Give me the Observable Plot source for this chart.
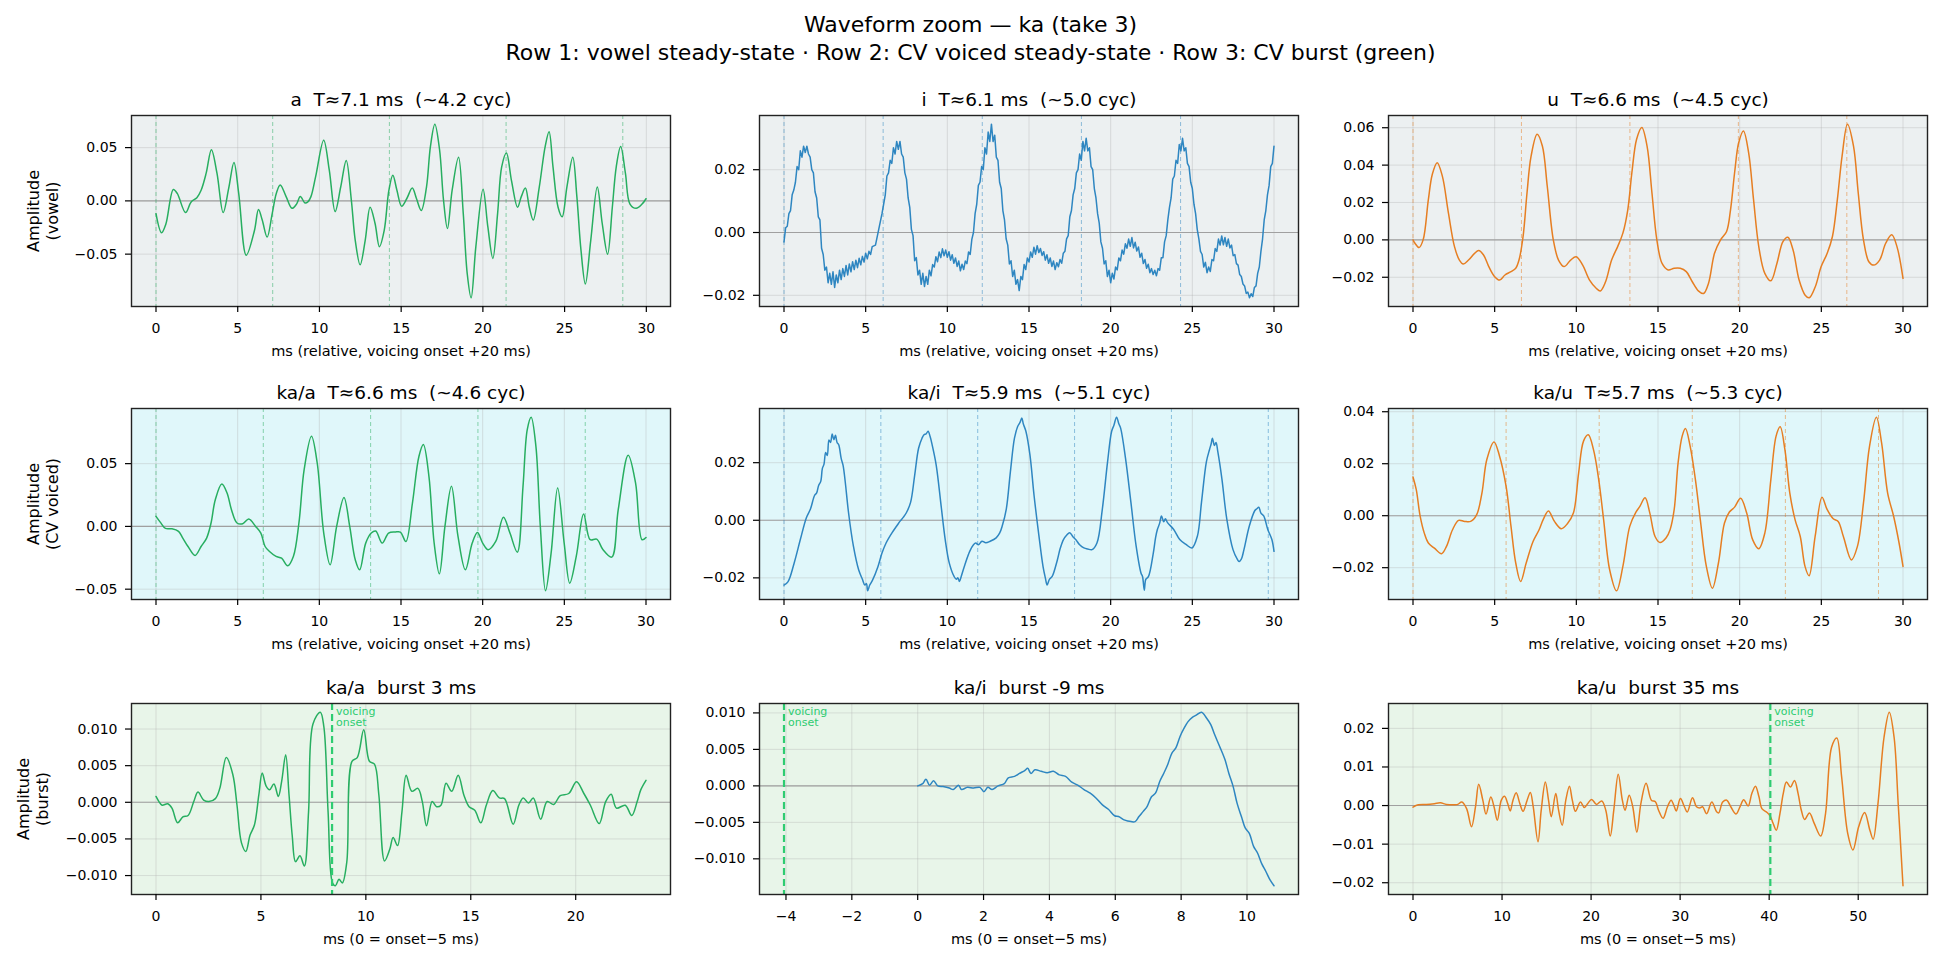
<!DOCTYPE html>
<html>
<head>
<meta charset="utf-8">
<script src="https://cdn.jsdelivr.net/npm/d3@7"></script>
<script src="https://cdn.jsdelivr.net/npm/@observablehq/plot@0.6"></script>
<style>
  body { margin: 0; background: #fff; }
  #fig { position: relative; width: 1941px; height: 962px; background: #fff; overflow: hidden;
         font-family: "DejaVu Sans", sans-serif; color: #000; }
  .sup { position: absolute; left: 0; width: 1941px; text-align: center; font-size: 22px;
         line-height: 22px; white-space: pre; }
  .ylab { position: absolute; transform: translate(-50%, -50%) rotate(-90deg); text-align: center;
          font-size: 16px; line-height: 1.2; white-space: nowrap; }
  .panel { position: absolute; }
  .panel svg text { white-space: pre; }
</style>
</head>
<body>
<div id="fig"></div>
<script>
// ---------- waveform samples: [ms, amplitude] ----------
const vowelA = [[0,-0.012],[0.34,-0.030],[0.6,-0.022],[1.06,0.0107],[1.3,0.007],[1.81,-0.011],[2.15,-0.001],[2.5,0.003],[2.76,0.010],[3.07,0.026],[3.39,0.048],[3.73,0.026],[4.11,-0.011],[4.45,0.012],[4.77,0.036],[5.06,0.007],[5.52,-0.051],[6.02,-0.028],[6.27,-0.008],[6.5,-0.018],[6.8,-0.034],[7.11,-0.012],[7.36,0.007],[7.6,0.015],[7.96,0.004],[8.32,-0.007],[8.6,-0.003],[8.83,0.004],[9.12,-0.002],[9.29,-0.001],[9.48,0.004],[9.77,0.023],[10.26,0.057],[10.6,0.029],[10.96,-0.010],[11.3,0.013],[11.64,0.038],[11.95,0.001],[12.19,-0.037],[12.49,-0.060],[12.8,-0.037],[13.1,-0.006],[13.4,-0.021],[13.67,-0.043],[13.96,-0.028],[14.25,0.010],[14.49,0.024],[14.74,0.010],[15.03,-0.005],[15.34,0.002],[15.68,0.012],[15.94,0.002],[16.23,-0.009],[16.55,0.013],[16.79,0.051],[17.06,0.072],[17.35,0.048],[17.59,0.001],[17.83,-0.026],[18.12,0.010],[18.51,0.041],[18.8,-0.012],[19.04,-0.068],[19.28,-0.091],[19.57,-0.043],[20.01,0.011],[20.3,-0.024],[20.61,-0.054],[20.9,-0.012],[21.15,0.032],[21.44,0.045],[21.75,0.019],[22.12,-0.006],[22.35,0.004],[22.6,0.012],[22.84,-0.006],[23.08,-0.018],[23.45,0.013],[23.81,0.051],[24.05,0.065],[24.29,0.032],[24.6,-0.006],[24.85,-0.015],[25.14,0.013],[25.5,0.041],[25.75,0.004],[26.0,-0.046],[26.27,-0.078],[26.6,-0.037],[27.0,0.013],[27.3,-0.021],[27.63,-0.050],[27.92,-0.006],[28.16,0.032],[28.43,0.051],[28.72,0.026],[29.0,-0.003],[29.38,-0.007],[29.74,-0.003],[29.98,0.002]];

const vowelI = [[0,-0.003],[0.1,0.0015],[0.2,0.002],[0.3,0.006],[0.4,0.007],[0.5,0.012],[0.6,0.0135],[0.7,0.016],[0.8,0.021],[0.9,0.02],[1.0,0.026],[1.1,0.024],[1.2,0.0275],[1.3,0.0255],[1.4,0.0275],[1.5,0.025],[1.6,0.024],[1.7,0.02],[1.8,0.019],[1.9,0.013],[2.0,0.011],[2.1,0.005],[2.2,0.004],[2.3,-0.005],[2.4,-0.007],[2.5,-0.012],[2.6,-0.011],[2.7,-0.016],[2.8,-0.013],[2.9,-0.0165],[3.0,-0.0125],[3.1,-0.0175],[3.2,-0.0135],[3.3,-0.016],[3.4,-0.012],[3.5,-0.015],[3.6,-0.0115],[3.7,-0.014],[3.8,-0.0105],[3.9,-0.0135],[4.0,-0.01],[4.1,-0.0125],[4.2,-0.0093],[4.3,-0.0118],[4.4,-0.0088],[4.5,-0.0112],[4.6,-0.0082],[4.7,-0.0103],[4.8,-0.0076],[4.9,-0.0094],[5.0,-0.0066],[5.1,-0.0084],[5.2,-0.006],[5.3,-0.007],[5.4,-0.0045],[5.6,-0.004],[5.8,0.001],[6.0,0.006],[6.1,0.009],[6.2,0.012],[6.3,0.018],[6.4,0.019],[6.5,0.023],[6.6,0.022],[6.7,0.027],[6.8,0.025],[6.9,0.029],[7.0,0.0265],[7.1,0.029],[7.2,0.025],[7.3,0.024],[7.4,0.019],[7.5,0.017],[7.6,0.011],[7.7,0.008],[7.8,0.001],[7.9,-0.001],[8.0,-0.009],[8.1,-0.008],[8.2,-0.0135],[8.3,-0.012],[8.4,-0.0165],[8.5,-0.013],[8.6,-0.0172],[8.7,-0.014],[8.8,-0.0165],[8.9,-0.012],[9.0,-0.0138],[9.1,-0.0102],[9.2,-0.011],[9.3,-0.0077],[9.4,-0.0093],[9.5,-0.0062],[9.6,-0.008],[9.7,-0.0052],[9.8,-0.0074],[9.9,-0.0056],[10.0,-0.0079],[10.1,-0.0061],[10.2,-0.0088],[10.3,-0.0071],[10.4,-0.0098],[10.5,-0.0081],[10.6,-0.0108],[10.7,-0.0091],[10.8,-0.0122],[10.9,-0.0101],[11.0,-0.0118],[11.1,-0.0091],[11.2,-0.0099],[11.3,-0.0062],[11.4,-0.007],[11.5,-0.0022],[11.6,0],[11.7,0.006],[11.8,0.009],[11.9,0.015],[12.0,0.016],[12.1,0.021],[12.2,0.02],[12.3,0.027],[12.4,0.025],[12.5,0.032],[12.6,0.029],[12.7,0.0345],[12.8,0.029],[12.9,0.031],[13.0,0.024],[13.1,0.023],[13.2,0.016],[13.3,0.014],[13.4,0.007],[13.5,0.004],[13.6,-0.002],[13.7,-0.004],[13.8,-0.01],[13.9,-0.009],[14.0,-0.014],[14.1,-0.012],[14.2,-0.0165],[14.3,-0.015],[14.4,-0.0185],[14.5,-0.014],[14.6,-0.015],[14.7,-0.0102],[14.8,-0.0118],[14.9,-0.0081],[15.0,-0.0094],[15.1,-0.0062],[15.2,-0.0079],[15.3,-0.0047],[15.4,-0.0069],[15.5,-0.0042],[15.6,-0.0064],[15.7,-0.0051],[15.8,-0.0073],[15.9,-0.0061],[16.0,-0.0088],[16.1,-0.0071],[16.2,-0.0098],[16.3,-0.0081],[16.4,-0.0108],[16.5,-0.0091],[16.6,-0.0118],[16.7,-0.0096],[16.8,-0.0109],[16.9,-0.0086],[17.0,-0.0098],[17.1,-0.0066],[17.2,-0.006],[17.3,-0.002],[17.4,-0.001],[17.5,0.005],[17.6,0.007],[17.7,0.012],[17.8,0.014],[17.9,0.019],[18.0,0.02],[18.1,0.025],[18.2,0.023],[18.3,0.029],[18.4,0.026],[18.5,0.03],[18.6,0.026],[18.7,0.027],[18.8,0.021],[18.9,0.02],[19.0,0.014],[19.1,0.011],[19.2,0.006],[19.3,0.003],[19.4,-0.003],[19.5,-0.005],[19.6,-0.01],[19.7,-0.009],[19.8,-0.014],[19.9,-0.012],[20.0,-0.016],[20.1,-0.013],[20.2,-0.0148],[20.3,-0.011],[20.4,-0.0119],[20.5,-0.0081],[20.6,-0.009],[20.7,-0.0056],[20.8,-0.0069],[20.9,-0.0036],[21.0,-0.005],[21.1,-0.0021],[21.2,-0.0044],[21.3,-0.0016],[21.4,-0.0049],[21.5,-0.0031],[21.6,-0.0059],[21.7,-0.0046],[21.8,-0.0079],[21.9,-0.0066],[22.0,-0.0099],[22.1,-0.0086],[22.2,-0.0114],[22.3,-0.0101],[22.4,-0.0128],[22.5,-0.0115],[22.6,-0.0134],[22.7,-0.012],[22.8,-0.0138],[22.9,-0.0115],[23.0,-0.012],[23.1,-0.008],[23.2,-0.008],[23.3,-0.003],[23.4,-0.001],[23.5,0.004],[23.6,0.008],[23.7,0.011],[23.8,0.017],[23.9,0.018],[24.0,0.023],[24.1,0.022],[24.2,0.028],[24.3,0.026],[24.4,0.03],[24.5,0.026],[24.6,0.027],[24.7,0.022],[24.8,0.021],[24.9,0.016],[25.0,0.014],[25.1,0.009],[25.2,0.006],[25.3,0.001],[25.4,-0.002],[25.5,-0.006],[25.6,-0.007],[25.7,-0.011],[25.8,-0.0095],[25.9,-0.0128],[26.0,-0.011],[26.1,-0.0124],[26.2,-0.0086],[26.3,-0.009],[26.4,-0.0051],[26.5,-0.006],[26.6,-0.0021],[26.7,-0.004],[26.8,-0.0011],[26.9,-0.0039],[27.0,-0.0016],[27.1,-0.0044],[27.2,-0.0021],[27.3,-0.0049],[27.4,-0.004],[27.5,-0.0074],[27.6,-0.007],[27.7,-0.0099],[27.8,-0.0104],[27.9,-0.0134],[28.0,-0.014],[28.1,-0.0164],[28.2,-0.017],[28.3,-0.0194],[28.4,-0.019],[28.5,-0.0208],[28.6,-0.0195],[28.7,-0.0204],[28.8,-0.0175],[28.9,-0.017],[29.0,-0.013],[29.1,-0.011],[29.2,-0.006],[29.3,-0.002],[29.4,0.004],[29.5,0.007],[29.6,0.012],[29.7,0.015],[29.8,0.021],[29.9,0.022],[30.0,0.0275]];

const vowelU = [[0,0],[0.12,-0.0018],[0.37,-0.0041],[0.62,0],[0.94,0.0215],[1.18,0.035],[1.48,0.0413],[1.8,0.034],[2.17,0.0143],[2.54,-0.0036],[2.84,-0.0108],[3.08,-0.0129],[3.4,-0.0108],[3.77,-0.0072],[4.02,-0.0057],[4.32,-0.0081],[4.64,-0.0143],[5.0,-0.0197],[5.3,-0.0215],[5.63,-0.0188],[6.0,-0.017],[6.29,-0.0152],[6.49,-0.0108],[6.74,0.0018],[6.98,0.0251],[7.23,0.0448],[7.6,0.0565],[7.92,0.0502],[8.22,0.0287],[8.59,0],[8.91,-0.0108],[9.25,-0.0143],[9.65,-0.0108],[9.99,-0.009],[10.39,-0.0135],[10.81,-0.0215],[11.23,-0.026],[11.47,-0.0273],[11.79,-0.0224],[12.16,-0.0108],[12.53,-0.0036],[12.85,0.0036],[13.15,0.0161],[13.4,0.0359],[13.69,0.0538],[14.01,0.0601],[14.33,0.0502],[14.63,0.0251],[14.93,0],[15.25,-0.0126],[15.62,-0.0161],[15.99,-0.0152],[16.36,-0.0152],[16.73,-0.017],[17.1,-0.0224],[17.47,-0.0273],[17.79,-0.0287],[18.09,-0.0233],[18.46,-0.0072],[18.83,0],[19.2,0.0045],[19.44,0.0161],[19.69,0.0359],[19.94,0.052],[20.23,0.0583],[20.55,0.0466],[20.85,0.0215],[21.17,-0.0036],[21.54,-0.0179],[21.91,-0.0219],[22.28,-0.0126],[22.65,-0.0009],[22.95,0.0014],[23.27,-0.0054],[23.64,-0.0215],[24.01,-0.0296],[24.26,-0.031],[24.63,-0.0251],[24.99,-0.0143],[25.36,-0.0072],[25.68,0.0018],[25.98,0.0215],[26.27,0.0448],[26.6,0.0619],[26.97,0.0502],[27.26,0.0251],[27.58,0],[27.91,-0.0117],[28.2,-0.0135],[28.57,-0.0108],[28.94,-0.0018],[29.31,0.0027],[29.63,-0.0036],[30.0,-0.0206]];

const cvA = [[0,0.008],[0.27,0.0032],[0.58,-0.0016],[0.98,-0.0019],[1.38,-0.004],[1.64,-0.0093],[1.96,-0.016],[2.39,-0.0231],[2.76,-0.016],[3.1,-0.0093],[3.37,0.0027],[3.63,0.0213],[4.03,0.0338],[4.35,0.0266],[4.62,0.0133],[4.96,0.0027],[5.31,0.0021],[5.68,0.0059],[6.1,0],[6.42,-0.0053],[6.68,-0.016],[6.95,-0.02],[7.35,-0.0239],[7.69,-0.0253],[8.06,-0.0314],[8.41,-0.0239],[8.75,0.0027],[9.07,0.0452],[9.52,0.0718],[9.87,0.0505],[10.27,-0.0053],[10.66,-0.0306],[11.06,0],[11.51,0.0231],[11.86,0],[12.2,-0.0266],[12.47,-0.0346],[12.84,-0.0133],[13.18,-0.0053],[13.45,-0.0037],[13.85,-0.0133],[14.24,-0.0053],[14.64,-0.0045],[14.96,-0.0045],[15.3,-0.012],[15.7,0.0186],[16.1,0.0559],[16.37,0.0652],[16.71,0.0399],[17.03,-0.0133],[17.35,-0.0378],[17.69,0],[18.09,0.0319],[18.49,-0.008],[18.94,-0.0346],[19.36,-0.0133],[19.68,-0.0048],[20.0,-0.0133],[20.34,-0.0186],[20.8,-0.012],[21.27,0.0072],[21.67,-0.0053],[22.12,-0.0205],[22.47,0.0319],[22.73,0.0771],[22.97,0.087],[23.26,0.0638],[23.53,0],[23.85,-0.0513],[24.19,-0.0213],[24.59,0.0306],[24.99,-0.0133],[25.33,-0.0452],[25.73,-0.0239],[26.18,0.0098],[26.58,-0.0106],[26.98,-0.0101],[27.37,-0.0186],[27.9,-0.0245],[28.3,0.0133],[28.91,0.0566],[29.36,0.0346],[29.76,-0.0106],[30.0,-0.0088]];

const cvI = [[0,-0.0225],[0.25,-0.0213],[0.62,-0.0149],[1.0,-0.0067],[1.37,0.0009],[1.62,0.0039],[1.87,0.0086],[2.0,0.0095],[2.12,0.0121],[2.25,0.0135],[2.35,0.018],[2.45,0.0195],[2.55,0.0235],[2.65,0.0225],[2.75,0.0279],[2.85,0.027],[2.95,0.03],[3.05,0.028],[3.15,0.0295],[3.25,0.027],[3.35,0.0262],[3.5,0.0215],[3.62,0.019],[3.75,0.0133],[3.95,0.0027],[4.25,-0.009],[4.57,-0.0172],[4.8,-0.0205],[4.95,-0.0225],[5.05,-0.022],[5.12,-0.0245],[5.25,-0.0225],[5.42,-0.0208],[5.75,-0.0161],[6.0,-0.0114],[6.25,-0.0079],[6.62,-0.0043],[6.9,-0.002],[7.12,-0.0002],[7.3,0.001],[7.5,0.0027],[7.75,0.0062],[8.0,0.0156],[8.24,0.025],[8.45,0.0285],[8.57,0.0297],[8.7,0.03],[8.82,0.0309],[8.95,0.029],[9.07,0.0262],[9.32,0.0191],[9.62,0.005],[9.87,-0.0067],[10.12,-0.0149],[10.42,-0.0196],[10.55,-0.0205],[10.65,-0.02],[10.74,-0.0213],[10.85,-0.0195],[11.07,-0.0155],[11.37,-0.0108],[11.6,-0.0085],[11.74,-0.0079],[11.9,-0.0085],[12.12,-0.0073],[12.35,-0.0078],[12.62,-0.0073],[12.99,-0.0061],[13.2,-0.0045],[13.36,-0.002],[13.61,0.0039],[13.86,0.0168],[14.11,0.0285],[14.3,0.0325],[14.45,0.034],[14.56,0.0355],[14.65,0.0335],[14.81,0.0309],[15.06,0.0226],[15.31,0.0086],[15.61,-0.0055],[15.86,-0.0161],[16.0,-0.02],[16.11,-0.0225],[16.25,-0.0205],[16.41,-0.0196],[16.74,-0.0137],[16.9,-0.01],[17.11,-0.0067],[17.3,-0.0052],[17.49,-0.0043],[17.7,-0.0058],[17.86,-0.0067],[18.1,-0.0085],[18.36,-0.0096],[18.6,-0.01],[18.86,-0.0102],[19.16,-0.0079],[19.49,0.0039],[19.81,0.0203],[20.06,0.0309],[20.2,0.033],[20.36,0.0358],[20.5,0.0335],[20.61,0.032],[20.91,0.0215],[21.24,0.0062],[21.56,-0.009],[21.86,-0.0184],[21.95,-0.0195],[22.06,-0.0243],[22.15,-0.0205],[22.31,-0.0196],[22.61,-0.0114],[22.75,-0.006],[22.86,-0.0032],[23.0,-0.001],[23.11,0.0015],[23.25,-0.0005],[23.35,0.0005],[23.48,-0.0008],[23.86,-0.0032],[24.23,-0.0067],[24.61,-0.0084],[24.98,-0.0096],[25.31,-0.0055],[25.56,0.0062],[25.86,0.0203],[26.05,0.0245],[26.15,0.0265],[26.23,0.0285],[26.35,0.026],[26.45,0.027],[26.56,0.0238],[26.81,0.0144],[27.11,0.0004],[27.49,-0.0102],[27.75,-0.0135],[27.86,-0.0143],[28.0,-0.0135],[28.16,-0.0102],[28.49,-0.002],[28.82,0.0033],[28.95,0.004],[29.07,0.0045],[29.2,0.0025],[29.37,0.0015],[29.62,-0.0032],[29.87,-0.0067],[30.0,-0.0108]];

const cvU = [[0,0.0149],[0.2,0.01],[0.44,-0.0003],[0.69,-0.0067],[0.94,-0.0105],[1.31,-0.0125],[1.75,-0.0146],[2.05,-0.0118],[2.42,-0.0054],[2.79,-0.0018],[3.16,-0.0022],[3.53,-0.0022],[3.9,0.0004],[4.22,0.0087],[4.52,0.0216],[4.96,0.0284],[5.3,0.0229],[5.7,0.0113],[6.0,-0.0041],[6.29,-0.0182],[6.59,-0.0253],[6.93,-0.0182],[7.35,-0.0099],[7.72,-0.0054],[7.97,-0.0015],[8.29,0.0018],[8.66,-0.0022],[9.08,-0.005],[9.45,-0.0031],[9.82,0.001],[10.14,0.0164],[10.44,0.0287],[10.73,0.0311],[11.05,0.0254],[11.37,0.0139],[11.67,-0.0015],[12.04,-0.0208],[12.46,-0.0289],[12.85,-0.0195],[13.27,-0.0041],[13.64,0.0013],[13.89,0.0036],[14.21,0.0069],[14.5,0.001],[14.82,-0.008],[15.12,-0.0103],[15.49,-0.0086],[15.74,-0.0054],[15.99,0.0023],[16.23,0.0203],[16.48,0.0306],[16.68,0.0335],[16.97,0.0267],[17.29,0.0139],[17.59,-0.0015],[17.96,-0.0195],[18.33,-0.0279],[18.7,-0.0182],[19.07,-0.0028],[19.37,0.0014],[19.69,0.0033],[20.06,0.0067],[20.43,0.001],[20.8,-0.0093],[21.17,-0.0127],[21.54,-0.0067],[21.91,0.0139],[22.23,0.0306],[22.48,0.0342],[22.77,0.0254],[23.07,0.0087],[23.39,-0.0015],[23.71,-0.008],[24.0,-0.0195],[24.25,-0.0231],[24.62,-0.008],[25.04,0.0071],[25.36,0.0023],[25.73,-0.0012],[26.03,-0.0022],[26.35,-0.008],[26.84,-0.017],[27.21,-0.0118],[27.58,0.0049],[27.95,0.0267],[28.37,0.0379],[28.69,0.028],[29.06,0.0087],[29.43,-0.0003],[29.76,-0.0105],[30.0,-0.0195]];

const burstA = [[0,0.0008],[0.14,0.0001],[0.29,-0.0004],[0.56,-0.0002],[0.76,-0.0008],[1.03,-0.0028],[1.28,-0.002],[1.53,-0.0018],[1.8,0.0001],[2.0,0.0014],[2.27,0.0003],[2.52,0.0001],[2.83,0.0005],[3.04,0.0019],[3.35,0.0061],[3.66,0.0038],[3.86,-0.0004],[4.07,-0.0055],[4.28,-0.0067],[4.48,-0.0045],[4.69,-0.0031],[4.9,0.001],[5.06,0.004],[5.25,0.0022],[5.41,0.0017],[5.62,0.0025],[5.83,0.0008],[5.99,0.0029],[6.18,0.0065],[6.34,0.001],[6.49,-0.0045],[6.65,-0.0081],[6.86,-0.0073],[7.07,-0.0087],[7.27,-0.0013],[7.48,0.0107],[7.83,0.0123],[8.0,0.0103],[8.2,-0.0013],[8.41,-0.011],[8.55,-0.0114],[8.72,-0.0105],[8.88,-0.011],[9.09,-0.0082],[9.34,0.0056],[9.59,0.0061],[9.9,0.0099],[10.17,0.0056],[10.41,0.0052],[10.62,0.001],[10.89,-0.008],[11.14,-0.0064],[11.3,-0.0048],[11.51,-0.0059],[11.72,-0.0013],[11.92,0.0037],[12.19,0.0015],[12.48,0.0019],[12.69,0.0001],[12.89,-0.0032],[13.16,0.0001],[13.37,-0.0006],[13.58,-0.0004],[13.82,0.0026],[14.09,0.0015],[14.4,0.0037],[14.67,0.001],[14.92,-0.0006],[15.19,-0.0011],[15.48,-0.0028],[15.74,-0.0004],[16.05,0.0016],[16.36,0.0006],[16.61,0.0005],[17.02,-0.003],[17.29,-0.0004],[17.5,0.0006],[17.75,-0.0001],[17.98,0.0006],[18.33,-0.0023],[18.64,0.0001],[18.95,-0.0003],[19.26,0.0009],[19.67,0.0012],[20.04,0.0028],[20.39,0.0012],[20.7,-0.0004],[21.12,-0.0029],[21.43,0.0001],[21.69,0.0011],[21.94,-0.0008],[22.36,-0.0004],[22.67,-0.0018],[22.93,0.0001],[23.1,0.0017],[23.35,0.003]];

const burstI = [[0,0],[0.15,0.0003],[0.25,0.0009],[0.36,0.0001],[0.48,0.0007],[0.61,0],[0.77,-0.0001],[0.96,-0.0003],[1.08,-0.0005],[1.24,0.0001],[1.33,-0.0005],[1.51,-0.0002],[1.7,-0.0003],[1.89,-0.0002],[2.01,-0.0008],[2.13,-0.0002],[2.26,-0.0005],[2.44,0],[2.63,0.0003],[2.75,0.0011],[2.94,0.0013],[3.09,0.0017],[3.25,0.0021],[3.34,0.0024],[3.44,0.0017],[3.56,0.0022],[3.75,0.002],[3.93,0.0018],[4.12,0.002],[4.3,0.0015],[4.49,0.0013],[4.68,0.0005],[4.86,0.0001],[5.05,-0.0005],[5.24,-0.001],[5.42,-0.0017],[5.61,-0.0026],[5.79,-0.0032],[5.98,-0.0041],[6.1,-0.0042],[6.29,-0.0047],[6.48,-0.0049],[6.6,-0.0049],[6.72,-0.0042],[6.85,-0.0035],[6.97,-0.0028],[7.1,-0.0015],[7.22,-0.001],[7.35,0.0006],[7.47,0.0017],[7.59,0.0029],[7.72,0.0045],[7.84,0.0052],[7.97,0.0068],[8.09,0.0079],[8.21,0.0088],[8.34,0.0094],[8.46,0.0097],[8.62,0.0101],[8.77,0.0093],[8.9,0.0084],[9.02,0.007],[9.17,0.0054],[9.33,0.0036],[9.45,0.0017],[9.58,-0.0001],[9.7,-0.0024],[9.83,-0.0042],[9.95,-0.0058],[10.07,-0.0065],[10.2,-0.0083],[10.32,-0.0092],[10.45,-0.0107],[10.57,-0.0117],[10.7,-0.0129],[10.82,-0.0137]];

const burstU = [[0,-0.0004],[0.59,0.0002],[1.49,0.0003],[2.4,0.0005],[3.08,0.0007],[3.76,0.0003],[4.66,0.0002],[5.03,0.0003],[5.48,0.0009],[6.02,-0.0008],[6.57,-0.0055],[7.02,-0.0003],[7.38,0.0055],[7.84,0.0014],[8.2,-0.0022],[8.74,0.0022],[9.1,-0.0003],[9.47,-0.0038],[9.92,0.0014],[10.28,0.0024],[10.64,0.0005],[10.92,-0.0014],[11.23,0.0014],[11.59,0.0033],[12.0,0.0005],[12.36,-0.0015],[12.82,0.0014],[13.18,0.0034],[13.5,-0.0003],[14.04,-0.0094],[14.4,-0.0012],[14.86,0.0061],[15.22,0.0014],[15.53,-0.0029],[16.03,0.0031],[16.35,-0.0012],[16.76,-0.0051],[17.16,0.0014],[17.57,0.005],[17.89,0.0014],[18.25,-0.0015],[18.8,0.0009],[19.25,-0.0005],[19.61,0.0005],[20.06,0.0016],[20.61,0.0003],[21.2,0.0012],[21.65,-0.0012],[22.15,-0.0079],[22.55,-0.0012],[23.05,0.0081],[23.51,0.0014],[23.82,-0.0012],[24.28,0.0027],[24.68,-0.0003],[25.14,-0.0069],[25.59,0.0005],[26.18,0.0058],[26.77,0.0014],[27.22,0.001],[27.58,-0.0012],[28.08,-0.0033],[28.58,-0.0003],[28.99,0.0014],[29.35,-0.0003],[29.57,-0.0014],[30.03,0.0018],[30.48,-0.0003],[30.8,-0.0017],[31.39,0.002],[31.84,-0.0003],[32.2,-0.0006],[32.52,-0.0003],[32.97,-0.0021],[33.56,0.0009],[34.1,-0.0016],[34.33,-0.0019],[34.78,0.0009],[35.24,0.0014],[35.69,-0.0003],[36.28,-0.0022],[36.73,-0.0003],[37.14,0.0015],[37.64,-0.0001],[38.05,0.0031],[38.46,0.005],[38.86,0.0022],[39.18,-0.0008],[39.77,-0.0018],[40.13,-0.0028],[40.44,-0.0046],[40.8,-0.0064],[41.21,-0.0021],[41.58,0.0031],[41.94,0.0061],[42.39,0.0048],[42.84,0.0065],[43.25,0.0031],[43.61,-0.0012],[43.98,-0.0036],[44.52,-0.0019],[45.06,-0.0046],[45.79,-0.0079],[46.33,-0.0021],[47.01,0.0151],[47.6,0.0175],[48.14,0.0074],[48.82,-0.0072],[49.41,-0.0115],[50.05,-0.0055],[50.72,-0.0018],[51.31,-0.0064],[51.68,-0.0087],[52.22,0.0005],[52.9,0.0177],[53.49,0.0242],[54.03,0.0177],[54.49,0.0005],[55.03,-0.0208]];

// ---------- period markers (ms) and voicing-onset positions ----------
const periodsVowelA = [0, 7.14, 14.28, 21.42, 28.56];
const periodsVowelI = [0, 6.07, 12.14, 18.21, 24.28];
const periodsVowelU = [0, 6.64, 13.28, 19.92, 26.56];
const periodsCvA = [0, 6.57, 13.14, 19.71, 26.28];
const periodsCvI = [0, 5.93, 11.86, 17.79, 23.72, 29.65];
const periodsCvU = [0, 5.7, 11.4, 17.1, 22.8, 28.5];
const voicingOnsets = [8.39, -4.06, 40.13];

// ---------- titles and tick labels ----------
const panelTitles = [
  "a  T≈7.1 ms  (~4.2 cyc)", "i  T≈6.1 ms  (~5.0 cyc)", "u  T≈6.6 ms  (~4.5 cyc)",
  "ka/a  T≈6.6 ms  (~4.6 cyc)", "ka/i  T≈5.9 ms  (~5.1 cyc)", "ka/u  T≈5.7 ms  (~5.3 cyc)",
  "ka/a  burst 3 ms", "ka/i  burst -9 ms", "ka/u  burst 35 ms"
];
const rowYLabels = [["Amplitude", "(vowel)"], ["Amplitude", "(CV voiced)"], ["Amplitude", "(burst)"]];
const steadyXLabel = "ms (relative, voicing onset +20 ms)";
const burstXLabel = "ms (0 = onset\u22125 ms)";
const steadyTicksX = [0, 5, 10, 15, 20, 25, 30];
const burstTicksXA = [0, 5, 10, 15, 20];
const burstTicksXI = [-4, -2, 0, 2, 4, 6, 8, 10];
const burstTicksXU = [0, 10, 20, 30, 40, 50];
const ticksY5 = [-0.05, 0, 0.05];
const ticksY2 = [-0.02, 0, 0.02];
const ticksYU = [-0.02, 0, 0.02, 0.04, 0.06];
const ticksYCvU = [-0.02, 0, 0.02, 0.04];
const ticksYBurst = [-0.010, -0.005, 0, 0.005, 0.010];
const ticksYBurstU = [-0.02, -0.01, 0, 0.01, 0.02];

// ---------- styling ----------
const GREEN = "#27ae60", BLUE = "#2e86c1", ORANGE = "#e67e22";
const ONSET = "#2ecc71";
const rowBg = ["#ecf0f1", "#e0f7fa", "#e8f5e9"];
const colColor = [GREEN, BLUE, ORANGE];

const panels = [
  {data: vowelA, periods: periodsVowelA, xTicks: steadyTicksX, yTicks: ticksY5, yFmt: ".2f", xLabel: steadyXLabel},
  {data: vowelI, periods: periodsVowelI, xTicks: steadyTicksX, yTicks: ticksY2, yFmt: ".2f", xLabel: steadyXLabel, curve: "linear"},
  {data: vowelU, periods: periodsVowelU, xTicks: steadyTicksX, yTicks: ticksYU, yFmt: ".2f", xLabel: steadyXLabel},
  {data: cvA, periods: periodsCvA, xTicks: steadyTicksX, yTicks: ticksY5, yFmt: ".2f", xLabel: steadyXLabel},
  {data: cvI, periods: periodsCvI, xTicks: steadyTicksX, yTicks: ticksY2, yFmt: ".2f", xLabel: steadyXLabel},
  {data: cvU, periods: periodsCvU, xTicks: steadyTicksX, yTicks: ticksYCvU, yFmt: ".2f", xLabel: steadyXLabel},
  {data: burstA, onset: voicingOnsets[0], xTicks: burstTicksXA, yTicks: ticksYBurst, yFmt: ".3f", xLabel: burstXLabel},
  {data: burstI, onset: voicingOnsets[1], xTicks: burstTicksXI, yTicks: ticksYBurst, yFmt: ".3f", xLabel: burstXLabel},
  {data: burstU, onset: voicingOnsets[2], xTicks: burstTicksXU, yTicks: ticksYBurstU, yFmt: ".2f", xLabel: burstXLabel}
];

// frame geometry of the 3x3 grid (px)
const colLeft = [131, 759, 1388];
const rowTop = [115, 408, 703];
const frameW = 539, frameH = 191;
const mL = 72, mR = 14, mT = 42, mB = 64;

// autoscale with a 5% margin on each side
function padded(lo, hi) { const p = (hi - lo) * 0.05; return [lo - p, hi + p]; }

const fig = document.getElementById("fig");

// suptitle
[["Waveform zoom \u2014 ka (take 3)", 14], ["Row 1: vowel steady-state \u00b7 Row 2: CV voiced steady-state \u00b7 Row 3: CV burst (green)", 42]]
  .forEach(([t, top]) => {
    const d = document.createElement("div");
    d.className = "sup"; d.style.top = top + "px"; d.textContent = t;
    fig.appendChild(d);
  });

// row labels
const ylabX = [43, 43, 33];
rowYLabels.forEach((lines, r) => {
  const d = document.createElement("div");
  d.className = "ylab";
  d.style.left = ylabX[r] + "px";
  d.style.top = (rowTop[r] + frameH / 2) + "px";
  d.innerHTML = lines.join("<br>");
  fig.appendChild(d);
});

panels.forEach((p, i) => {
  const row = Math.floor(i / 3), col = i % 3;
  const color = colColor[col];
  const ts = p.data.map(d => d[0]).concat(p.onset !== undefined ? [p.onset] : []);
  const vs = p.data.map(d => d[1]);
  const xDomain = padded(d3.min(ts), d3.max(ts));
  const yDomain = padded(d3.min(vs), d3.max(vs));

  const marks = [
    Plot.frame({fill: rowBg[row], stroke: null}),
    Plot.gridX({ticks: p.xTicks, stroke: "#b0b0b0", strokeOpacity: 0.35, strokeWidth: 1}),
    Plot.gridY({ticks: p.yTicks, stroke: "#b0b0b0", strokeOpacity: 0.35, strokeWidth: 1}),
    Plot.ruleY([0], {stroke: "#a0a0a0", strokeWidth: 1.1})
  ];
  if (p.periods) {
    marks.push(Plot.ruleX(p.periods, {x: d => d, stroke: color, strokeOpacity: 0.5, strokeWidth: 1, strokeDasharray: "4,3"}));
  }
  marks.push(Plot.line(p.data, {x: d => d[0], y: d => d[1], stroke: color, strokeWidth: 1.5, curve: p.curve || "catmull-rom"}));
  if (p.onset !== undefined) {
    marks.push(Plot.ruleX([p.onset], {x: d => d, stroke: ONSET, strokeWidth: 2.2, strokeDasharray: "7,4"}));
    marks.push(Plot.text([p.onset], {x: d => d, text: () => "voicing\nonset", frameAnchor: "top", dx: 4, dy: 3,
      textAnchor: "start", lineAnchor: "top", fontSize: 11, lineHeight: 1.05, fill: ONSET}));
  }
  marks.push(
    Plot.frame({stroke: "#222", strokeWidth: 1.4}),
    Plot.axisX({ticks: p.xTicks, tickFormat: d3.format("d"), tickSize: 6, tickPadding: 11, strokeWidth: 1.2, fontSize: 14, label: null}),
    Plot.axisY({ticks: p.yTicks, tickFormat: d3.format(p.yFmt), tickSize: 6, tickPadding: 8, strokeWidth: 1.2, fontSize: 14, label: null}),
    Plot.text([p.xLabel], {text: d => d, frameAnchor: "bottom", dy: 45, lineAnchor: "middle", fontSize: 14.5}),
    Plot.text([panelTitles[i]], {text: d => d, frameAnchor: "top", dy: -10, lineAnchor: "bottom", fontSize: 18.5})
  );

  const svg = Plot.plot({
    width: mL + frameW + mR, height: mT + frameH + mB,
    marginLeft: mL, marginRight: mR, marginTop: mT, marginBottom: mB,
    x: {domain: xDomain},
    y: {domain: yDomain},
    style: {fontFamily: "DejaVu Sans", fontSize: "14px", color: "#000", background: "none", overflow: "visible"},
    marks
  });
  const wrap = document.createElement("div");
  wrap.className = "panel";
  wrap.style.left = (colLeft[col] - mL) + "px";
  wrap.style.top = (rowTop[row] - mT) + "px";
  wrap.appendChild(svg);
  fig.appendChild(wrap);
});
</script>
</body>
</html>
